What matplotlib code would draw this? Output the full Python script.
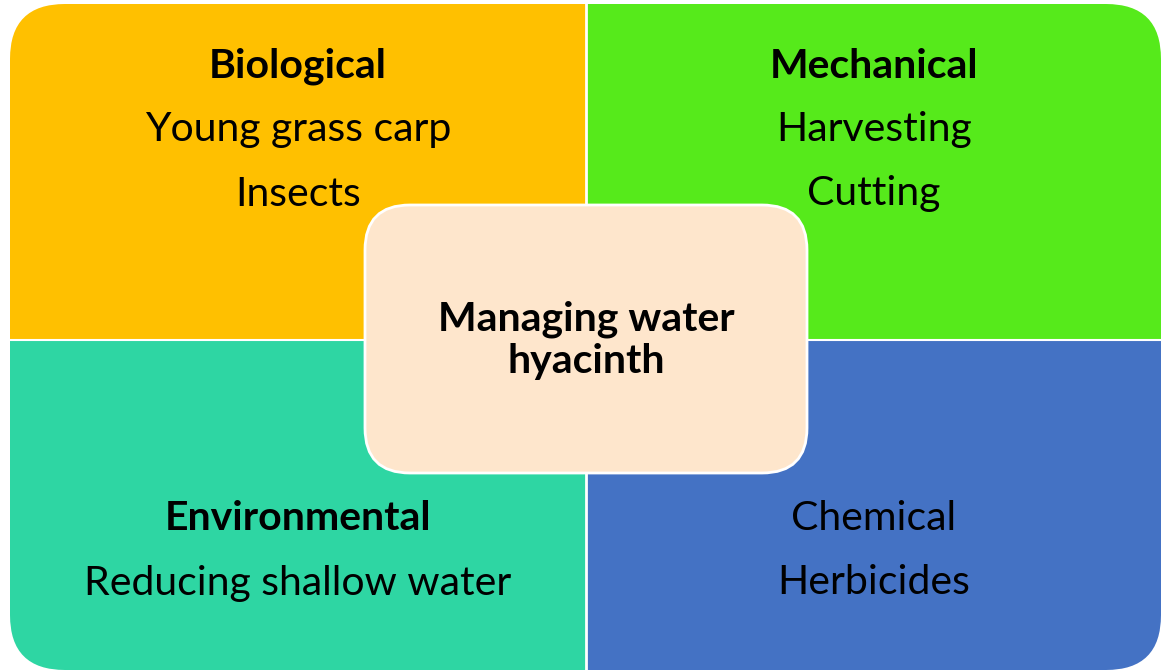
import matplotlib.pyplot as plt
from matplotlib.patches import FancyBboxPatch, Rectangle

# quadrant content: (heading, items), heading None = no bold title
headings = ['Biological', 'Mechanical', 'Environmental', None]
items = [
    ['Young grass carp', 'Insects'],
    ['Harvesting', 'Cutting'],
    ['Reducing shallow water'],
    ['Chemical', 'Herbicides'],
]
colors = ['#FFC000', '#56EA1B', '#2ED6A3', '#4472C4']
center_text = 'Managing water\nhyacinth'

W, H = 1162, 671
plt.rcParams['font.family'] = ['Lato', 'DejaVu Sans']

fig = plt.figure(figsize=(W / 100, H / 100), dpi=100)
ax = fig.add_axes([0, 0, 1, 1])
ax.set_xlim(0, W)
ax.set_ylim(H, 0)
ax.axis('off')

# outer rounded shape used as clip
x0, y0, x1, y1 = 10, 4, 1161, 670
xm, ym = 586, 340
r = 55
outer = FancyBboxPatch((x0 + r, y0 + r), (x1 - x0) - 2 * r, (y1 - y0) - 2 * r,
                       boxstyle=f'round,pad={r}', facecolor='none', edgecolor='none')
ax.add_patch(outer)

quads = [(x0, y0, xm, ym), (xm, y0, x1, ym), (x0, ym, xm, y1), (xm, ym, x1, y1)]
for (qa, qb, qc, qd), col in zip(quads, colors):
    rect = Rectangle((qa, qb), qc - qa, qd - qb, facecolor=col, edgecolor='none', zorder=1)
    ax.add_patch(rect)
    rect.set_clip_path(outer)

# white dividers
ax.plot([xm, xm], [y0, y1], color='white', lw=2, zorder=2)
ax.plot([x0, x1], [ym, ym], color='white', lw=1.5, zorder=2)

# text in quadrants
centers_x = [298, 874, 298, 874]
start_y = [66, 66, 519, 519]
step = 64
fs = 29.5
for i in range(4):
    y = start_y[i]
    if headings[i]:
        ax.text(centers_x[i], y, headings[i], ha='center', va='center',
                fontsize=fs, fontweight='bold', color='black', zorder=3)
        y += step
    for it in items[i]:
        ax.text(centers_x[i], y, it, ha='center', va='center',
                fontsize=fs, color='black', zorder=3)
        y += step

# center box
cx0, cy0, cx1, cy1 = 365, 205, 807, 473
cr = 45
center = FancyBboxPatch((cx0 + cr, cy0 + cr), (cx1 - cx0) - 2 * cr, (cy1 - cy0) - 2 * cr,
                        boxstyle=f'round,pad={cr}', facecolor='#FEE6CC',
                        edgecolor='white', lw=2, zorder=4)
ax.add_patch(center)
ax.text((cx0 + cx1) / 2, 340, center_text, ha='center', va='center',
        fontsize=29.5, fontweight='bold', color='black', linespacing=1.15, zorder=5)

fig.savefig('out.png', dpi=100)
